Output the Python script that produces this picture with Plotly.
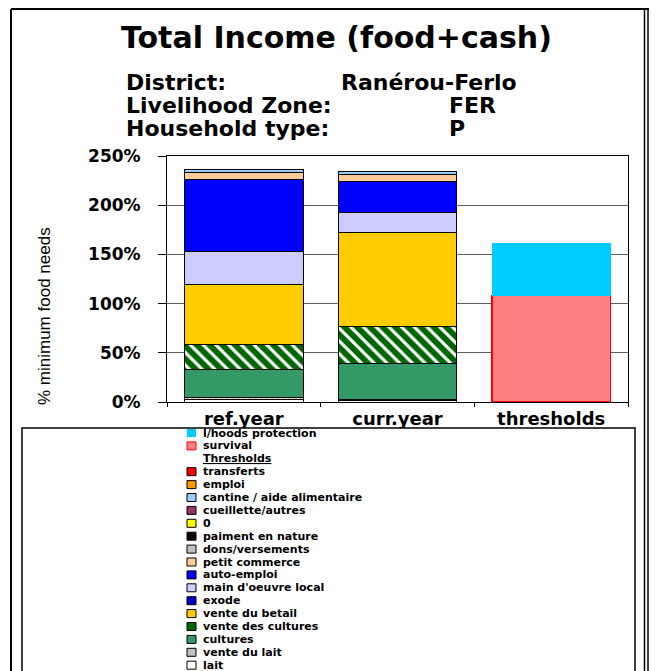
import plotly.graph_objects as go

# ---------------- data ----------------
categories = ["ref.year", "curr.year", "thresholds"]
income_cats = ["ref.year", "curr.year"]

# stacking order: bottom -> top
income_names = ["lait", "vente du lait", "cultures", "vente des cultures",
                "vente du betail", "exode", "main d'oeuvre local", "auto-emploi",
                "petit commerce", "dons/versements", "paiment en nature", "0",
                "cueillette/autres", "cantine / aide alimentaire", "emploi", "transferts"]
lait = [2.5, 1.2]
vente_du_lait = [2.0, 1.8]
cultures = [28.5, 36.0]
vente_des_cultures = [25.5, 38.0]
vente_du_betail = [60.5, 95.0]
exode = [0.0, 0.0]
main_oeuvre_local = [33.5, 20.5]
auto_emploi = [74.0, 31.5]
petit_commerce = [6.5, 7.5]
dons_versements = [0.0, 0.0]
paiment_en_nature = [0.0, 0.0]
zero_series = [0.0, 0.0]
cueillette_autres = [0.0, 0.0]
cantine_aide = [3.0, 2.5]
emploi = [0.0, 0.0]
transferts = [0.0, 0.0]
income_values = [lait, vente_du_lait, cultures, vente_des_cultures, vente_du_betail,
                 exode, main_oeuvre_local, auto_emploi, petit_commerce, dons_versements,
                 paiment_en_nature, zero_series, cueillette_autres, cantine_aide,
                 emploi, transferts]

threshold_names = ["survival", "l/hoods protection"]
survival = [108.0]
lhoods_protection = [53.5]
threshold_values = [survival, lhoods_protection]

y_tick_values = [0, 50, 100, 150, 200, 250]
y_tick_labels = ["0%", "50%", "100%", "150%", "200%", "250%"]

legend_order = ["l/hoods protection", "survival", "Thresholds", "transferts", "emploi",
                "cantine / aide alimentaire", "cueillette/autres", "0",
                "paiment en nature", "dons/versements", "petit commerce", "auto-emploi",
                "main d'oeuvre local", "exode", "vente du betail", "vente des cultures",
                "cultures", "vente du lait", "lait"]

title_text = "Total Income (food+cash)"
sub_labels = ["District:", "Livelihood Zone:", "Household type:"]
sub_values = ["Ranérou-Ferlo", "FER", "P"]
y_title = "% minimum food needs"

# ---------------- styles ----------------
colors = {
    "lait": "#FFFFFF", "vente du lait": "#C0C0C0", "cultures": "#339966",
    "vente des cultures": "#006600", "vente du betail": "#FFCC00", "exode": "#0000CC",
    "main d'oeuvre local": "#CCCCFF", "auto-emploi": "#0000FF",
    "petit commerce": "#FFCC99", "dons/versements": "#C0C0C0",
    "paiment en nature": "#110000", "0": "#FFFF00", "cueillette/autres": "#993366",
    "cantine / aide alimentaire": "#99CCFF", "emploi": "#FF9900", "transferts": "#FF0000",
    "survival": "#FF8080", "l/hoods protection": "#00CCFF",
}
patterns = {
    "vente des cultures": dict(shape="\\", fillmode="overlay", fgcolor="white",
                               fgopacity=1, size=9, solidity=0.35),
    "vente du lait": dict(shape="/", fillmode="overlay", fgcolor="white",
                          fgopacity=1, size=4, solidity=0.4),
    "exode": dict(shape="+", fillmode="overlay", fgcolor="white",
                  fgopacity=1, size=6, solidity=0.3),
}

# page body has an 8px margin in the browser -> shift everything
OFF = 8
W, H = 657 - OFF, 671 - OFF
PLOT_L, PLOT_R, PLOT_T, PLOT_B = 167, 628, 156, 402   # reference pixels
ML, MR = PLOT_L - OFF, W - (PLOT_R - OFF)
MT, MB = PLOT_T - OFF, H - (PLOT_B - OFF)
PW, PH = W - ML - MR, H - MT - MB


def px(x):
    return (x - OFF - ML) / PW


def py(y):
    return (H - MB - (y - OFF)) / PH


BOLD = "DejaVu Sans"

fig = go.Figure()
for name, vals in zip(income_names, income_values):
    marker = dict(color=colors[name], line=dict(color="black", width=1))
    if name in patterns:
        marker["pattern"] = patterns[name]
    fig.add_trace(go.Bar(x=income_cats, y=vals, name=name, marker=marker,
                         showlegend=False))

th_lines = {"survival": dict(color="#FF0000", width=1.5),
            "l/hoods protection": dict(color="#00CCFF", width=0)}
for name, vals in zip(threshold_names, threshold_values):
    fig.add_trace(go.Bar(x=["thresholds"], y=vals, name=name,
                         marker=dict(color=colors[name], line=th_lines[name]),
                         showlegend=False))

shapes = []
annotations = []

# outer frame (the visible page area ends near x=649)
shapes.append(dict(type="line", xref="paper", yref="paper", x0=px(11), x1=px(11),
                   y0=py(9), y1=py(680), line=dict(color="black", width=2)))
shapes.append(dict(type="line", xref="paper", yref="paper", x0=px(11), x1=px(649),
                   y0=py(9), y1=py(9), line=dict(color="black", width=2)))
for xx in (644.5, 648):
    shapes.append(dict(type="line", xref="paper", yref="paper", x0=px(xx), x1=px(xx),
                       y0=py(9), y1=py(680), line=dict(color="black", width=1.5)))

# legend box
shapes.append(dict(type="rect", xref="paper", yref="paper", x0=px(22), x1=px(635),
                   y0=py(428), y1=py(690), line=dict(color="black", width=1.5),
                   fillcolor="white", layer="above"))

LEG_SIZE = 11
row0, rowstep = 433, 12.9
for i, name in enumerate(legend_order):
    yc = row0 + rowstep * i
    if name == "Thresholds":
        annotations.append(dict(text=name, xref="paper", yref="paper", x=px(201),
                                y=py(yc), xanchor="left", yanchor="middle",
                                showarrow=False,
                                font=dict(family=BOLD, size=LEG_SIZE, color="black",
                                          weight="bold", lineposition="under")))
        continue
    if name == "l/hoods protection":
        border = dict(width=0)
    elif name == "survival":
        border = dict(color="#FF0000", width=1)
    else:
        border = dict(color="black", width=1)
    shapes.append(dict(type="rect", xref="paper", yref="paper", x0=px(187), x1=px(196),
                       y0=py(yc + 4), y1=py(yc - 4), fillcolor=colors[name],
                       line=border, layer="above"))
    annotations.append(dict(text=name, xref="paper", yref="paper", x=px(201), y=py(yc),
                            xanchor="left", yanchor="middle", showarrow=False,
                            font=dict(family=BOLD, size=LEG_SIZE, color="black",
                                      weight="bold")))

# titles
annotations.append(dict(text=title_text, xref="paper", yref="paper",
                        x=px(336), y=py(38), xanchor="center", yanchor="middle",
                        showarrow=False,
                        font=dict(family=BOLD, size=30, color="black", weight="bold")))
value_x = [339, 447, 447]
row_y = [82.5, 105.5, 128.5]
for lab, val, vx, yc in zip(sub_labels, sub_values, value_x, row_y):
    annotations.append(dict(text=lab, xref="paper", yref="paper", x=px(124), y=py(yc),
                            xanchor="left", yanchor="middle", showarrow=False,
                            font=dict(family=BOLD, size=22, color="black",
                                      weight="bold")))
    annotations.append(dict(text=val, xref="paper", yref="paper", x=px(vx), y=py(yc),
                            xanchor="left", yanchor="middle", showarrow=False,
                            font=dict(family=BOLD, size=22, color="black",
                                      weight="bold")))

# y axis title
annotations.append(dict(text=y_title, xref="paper", yref="paper",
                        x=px(44), y=py(316), xanchor="center", yanchor="middle",
                        textangle=-90, showarrow=False,
                        font=dict(family="Liberation Sans", size=17, color="black")))

fig.update_layout(
    width=W, height=H,
    margin=dict(l=ML, r=MR, t=MT, b=MB, autoexpand=False),
    paper_bgcolor="white", plot_bgcolor="white",
    barmode="stack", bargap=0.227,
    showlegend=False,
    shapes=shapes, annotations=annotations,
    xaxis=dict(categoryorder="array", categoryarray=categories,
               range=[-0.5, 2.5], showline=True, linecolor="black", linewidth=1,
               mirror=True, ticks="outside", tickson="boundaries", ticklen=4,
               tickcolor="black", showgrid=False, automargin=False,
               tickfont=dict(family=BOLD, size=18, color="black", weight="bold")),
    yaxis=dict(range=[0, 250], tickmode="array", tickvals=y_tick_values,
               ticktext=y_tick_labels,
               showline=True, linecolor="black", linewidth=1, mirror=True,
               ticks="outside", ticklen=8, tickcolor="black",
               showgrid=True, gridcolor="#606060", gridwidth=1, zeroline=False,
               automargin=False, ticklabelstandoff=14,
               tickfont=dict(family=BOLD, size=17, color="black", weight="bold")),
)

fig.write_html("out.html")
